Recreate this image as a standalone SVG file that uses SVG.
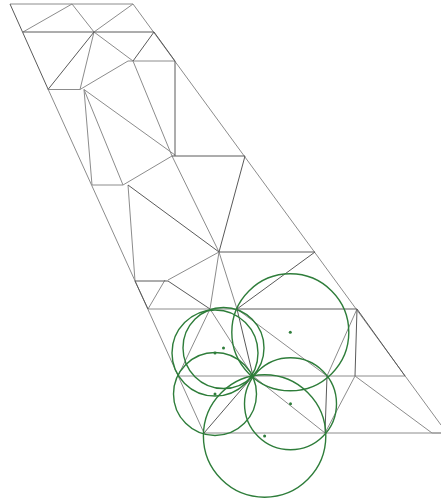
<svg xmlns="http://www.w3.org/2000/svg" width="441" height="501" viewBox="0 0 441 501">
<style>
.l{stroke:#8c8c8c;stroke-width:1;fill:none}
.d{stroke:#5a5a5a;stroke-width:1;fill:none}
.c{stroke:#2e7d3a;stroke-width:1.4;fill:none}
.p{fill:#2e7d3a}
</style>
<rect width="441" height="501" fill="#fff"/>
<g id="edges-light" class="l">
<path d="M10 4H133M72 4L23 32M72 4L94 32M133 4L94 32M94 32L133 61M94 32L80 89.5M48 89.5H80M80 89.5L128 61H175"/>
<path d="M133 4L441 425"/>
<path d="M48 89L204 433"/>
<path d="M133 61L172 156M84 89.5L92 185H123M84 89.5L123 185L172 156M84 89.5L175 155M172 156L219 252"/>
<path d="M128 185L135 281M165 280L148 309M168 280L219 252M219 252L210 309M219 252L237 309"/>
<path d="M148 309H237M210 309L178 376M210 309L253 376M178 376H405M237 309L327 376M357 309L327 376M355 376L325 433M355 376L432 433M253 376L325 433M204 433H432"/>
</g>
<g id="edges-dark" class="d">
<path d="M10 4L48 89M23 32H154M94 32L48 89.5M154 32L133 61M154 32L175 61M175 61V156M172 156H245L219 252M128 185L219 252"/>
<path d="M135 281L148 309M135 281H168L210 309M219 252H315L237 309M237 309H357L405 376M237 309L253 376M357 309L355 376M327 376L325 433M253 376L204 433M432 433H441"/>
</g>
<g id="circles" class="c">
<circle cx="223.5" cy="348" r="40.5"/>
<circle cx="215" cy="353" r="43"/>
<circle cx="215" cy="394" r="41.5"/>
<circle cx="290.3" cy="332.3" r="58.5"/>
<circle cx="290.5" cy="403.7" r="46"/>
<circle cx="264.6" cy="436" r="61.2"/>
</g>
<g id="centers" class="p">
<circle cx="223.5" cy="348" r="1.5"/>
<circle cx="215" cy="353" r="1.5"/>
<circle cx="215" cy="394" r="1.5"/>
<circle cx="290.3" cy="332.3" r="1.5"/>
<circle cx="290.5" cy="403.7" r="1.5"/>
<circle cx="264.6" cy="436" r="1.5"/>
</g>
</svg>
